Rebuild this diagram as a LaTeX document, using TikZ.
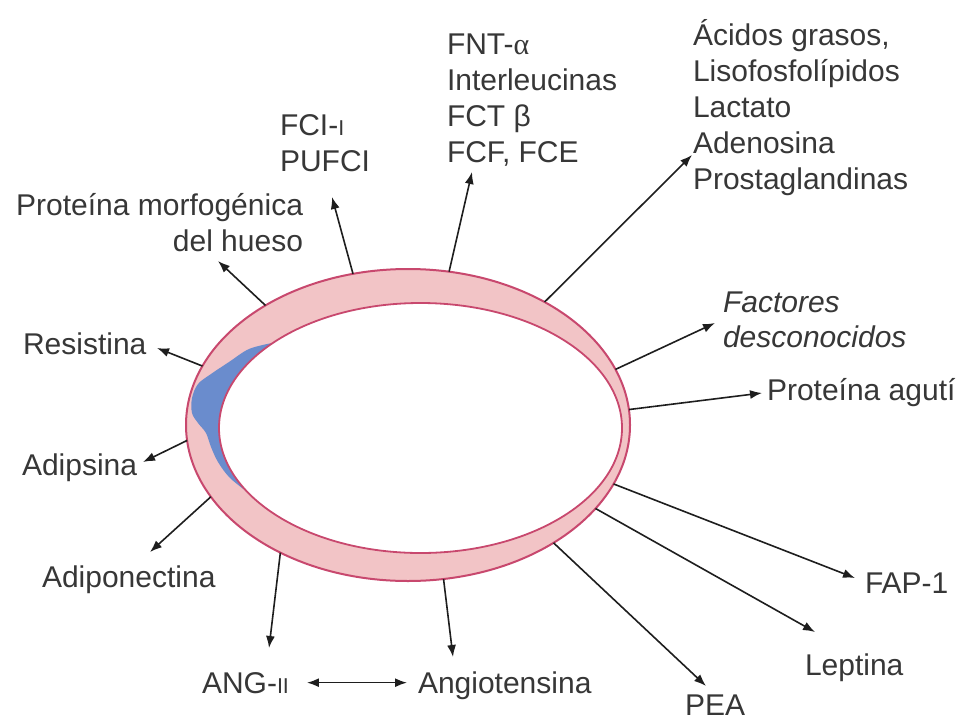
\documentclass[tikz,border=0pt]{standalone}
\usepackage{fontspec}
\setmainfont{Liberation Sans}
\newfontfamily\greekserif{Liberation Serif}
\usetikzlibrary{arrows.meta,shapes.geometric}
\definecolor{ringfill}{RGB}{242,196,198}
\definecolor{ringline}{RGB}{200,72,110}
\definecolor{fatblue}{RGB}{106,140,205}
\definecolor{ink}{RGB}{55,55,55}
\definecolor{arrowink}{RGB}{30,30,30}
% small capital I used in the factor names
\newcommand{\smallcapI}{{\fontsize{21.5}{21.5}\selectfont I}}

\begin{document}
\begin{tikzpicture}[x=1pt,y=-1pt,
  lbl/.style={inner sep=0pt, outer sep=0pt, text=ink, font=\fontsize{30}{36}\selectfont},
  arr/.style={draw=arrowink, line width=1.6pt, -{Latex[length=12pt,width=9pt]}},
  ringedge/.style={ellipse, inner sep=0pt, outer sep=0pt, draw=ringline, line width=2pt}
]
\useasboundingbox (0,0) rectangle (960,723);
\fill[white] (0,0) rectangle (960,723);

% adipocyte: membrane ring, lipid-free cytoplasm (blue) and the droplet
\node[ringedge, minimum width=444pt, minimum height=312pt, fill=ringfill] (cell) at (408,425) {};
\begin{scope}
  \clip (408,425) ellipse [x radius=221pt, y radius=155pt];
  \fill[fatblue] plot[smooth, tension=0.55] coordinates {(272,343) (249,349) (229,362) (211,374) (198,384) (192,398) (192,413) (198,423) (206,433) (211,447) (218,462) (230,478) (250,494)} -- (300,480) -- (300,340) -- cycle;
\end{scope}
\node[ringedge, minimum width=403pt, minimum height=250pt, fill=white, line width=1.8pt] (droplet) at (420.5,428) {};

% secreted factors (multi-line labels are placed by their last baseline)
\node[lbl, anchor=base east, align=right] (bmp) at (303,251) {Proteína morfogénica\\del hueso};
\node[lbl, anchor=base west, align=left] (fci) at (280,171) {FCI-\smallcapI\\PUFCI};
\node[lbl, anchor=base west, align=left] (fnt) at (447,162) {FNT-{\greekserif α}\\Interleucinas\\FCT β\\FCF, FCE};
\node[lbl, anchor=base west, align=left] (acid) at (693,189) {Ácidos grasos,\\Lisofosfolípidos\\Lactato\\Adenosina\\Prostaglandinas};
\node[lbl, anchor=base west, align=left, font=\fontsize{30}{35}\selectfont\itshape] (unk) at (723,347) {Factores\\desconocidos};
\node[lbl, anchor=base west] (aguti) at (767,400) {Proteína agutí};
\node[lbl, anchor=base west] (fap) at (865,593) {FAP-1};
\node[lbl, anchor=base west] (lep) at (805,675) {Leptina};
\node[lbl, anchor=base west] (pea) at (685,715) {PEA};
\node[lbl, anchor=base west] (angio) at (418,693) {Angiotensina};
\node[lbl, anchor=base west] (ang) at (202,693) {ANG-\smallcapI\smallcapI};
\node[lbl, anchor=base west] (adipo) at (42,587) {Adiponectina};
\node[lbl, anchor=base west] (adips) at (22,475) {Adipsina};
\node[lbl, anchor=base west] (resis) at (23,354) {Resistina};

% arrow tips beside the labels
\coordinate (tbmp) at (218,261);
\coordinate (tfci) at (332,197);
\coordinate (tfnt) at (472,172);
\coordinate (tacid) at (692,155);
\coordinate (tunk) at (715,323);
\coordinate (taguti) at (762,393);
\coordinate (tfap) at (855,578);
\coordinate (tlep) at (815,632);
\coordinate (tpea) at (706,686);
\coordinate (tangio) at (453,657);
\coordinate (tang) at (269,648);
\coordinate (tadipo) at (150,552);
\coordinate (tadips) at (143,462);
\coordinate (tresis) at (157,348);

\draw[arr] (cell.140) -- (tbmp);
\draw[arr] (cell.110.9) -- (tfci);
\draw[arr] (cell.75.6) -- (tfnt);
\draw[arr] (cell.42.8) -- (tacid);
\draw[arr] (cell.15.4) -- (tunk);
\draw[arr] (cell.4.7) -- (taguti);
\draw[arr] (cell.-16.2) -- (tfap);
\draw[arr] (cell.-24.9) -- (tlep);
\draw[arr] (cell.-39.6) -- (tpea);
\draw[arr] (cell.-77.8) -- (tangio);
\draw[arr] (cell.225.4) -- (tang);
\draw[arr] (cell.200) -- (tadipo);
\draw[arr] (cell.184.6) -- (tadips);
\draw[arr] (cell.164.7) -- (tresis);

\draw[arr, {Latex[length=12pt,width=9pt]}-{Latex[length=12pt,width=9pt]}, shorten <=18pt, shorten >=11pt]
  (ang.east) -- (ang.east -| angio.west);
\end{tikzpicture}
\end{document}
